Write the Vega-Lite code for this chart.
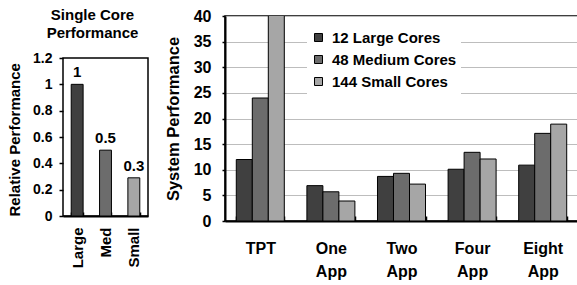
{
  "$schema": "https://vega.github.io/schema/vega-lite/v6.json",
  "padding": {"left": 7, "top": 7, "right": 0, "bottom": 0},
  "background": "white",
  "spacing": 15,
  "config": {
    "font": "Liberation Sans",
    "view": {"stroke": "black", "strokeWidth": 1.5},
    "axis": {
      "labelFontWeight": "bold",
      "titleFontWeight": "bold",
      "labelColor": "black",
      "titleColor": "black",
      "domainColor": "black",
      "domainWidth": 2,
      "tickColor": "black",
      "labelOverlap": false
    }
  },
  "resolve": {"scale": {"color": "independent"}},
  "hconcat": [
    {
      "width": 85,
      "height": 200,
      "view": {"stroke": null},
      "title": {
        "text": ["Single Core", "Performance"],
        "fontSize": 15,
        "fontWeight": "bold",
        "lineHeight": 18,
        "color": "black",
        "frame": "group",
        "anchor": "middle",
        "dx": -13,
        "offset": -25
      },
      "data": {
        "values": [
          {"core": "Large", "perf": 1.0, "label": "1"},
          {"core": "Med", "perf": 0.5, "label": "0.5"},
          {"core": "Small", "perf": 0.29, "label": "0.3"}
        ]
      },
      "layer": [
        {
          "data": {"values": [{"lo": 0, "hi": 1.2}]},
          "mark": {"type": "rect", "fill": null, "stroke": "black", "strokeWidth": 1.5},
          "encoding": {
            "y": {
              "field": "lo",
              "type": "quantitative",
              "scale": {"domain": [0, 1.519], "nice": false},
              "axis": {
                "values": [0, 0.2, 0.4, 0.6, 0.8, 1, 1.2],
                "tickCount": 10,
                "format": "~g",
                "grid": false,
                "domain": false,
                "labelOverlap": false,
                "tickSize": 4,
                "tickWidth": 1.5,
                "labelFontSize": 14,
                "labelPadding": 7,
                "title": "Relative Performance",
                "titleAnchor": "start",
                "titleFontSize": 15,
                "titlePadding": 10
              }
            },
            "y2": {"field": "hi"}
          }
        },
        {
          "mark": {"type": "bar", "stroke": "black", "strokeWidth": 1},
          "encoding": {
            "x": {
              "field": "core",
              "type": "nominal",
              "sort": null,
              "scale": {"paddingInner": 0.58, "paddingOuter": 0.29},
              "axis": {
                "title": null,
                "labelAngle": -90,
                "labelFontSize": 15,
                "labelPadding": 15,
                "tickBand": "extent",
                "tickSize": -4,
                "tickWidth": 1.5
              }
            },
            "y": {
              "field": "perf",
              "type": "quantitative",
              "scale": {"domain": [0, 1.519], "nice": false},
              "axis": {
                "values": [0, 0.2, 0.4, 0.6, 0.8, 1, 1.2],
                "tickCount": 10,
                "format": "~g",
                "grid": false,
                "domain": false,
                "labelOverlap": false,
                "tickSize": 4,
                "tickWidth": 1.5,
                "labelFontSize": 14,
                "labelPadding": 7,
                "title": "Relative Performance",
                "titleAnchor": "start",
                "titleFontSize": 15,
                "titlePadding": 10
              }
            },
            "color": {
              "field": "core",
              "type": "nominal",
              "scale": {"domain": ["Large", "Med", "Small"], "range": ["#404040", "#6c6c6c", "#a6a6a6"]},
              "legend": null
            }
          }
        },
        {
          "mark": {"type": "text", "dy": -12, "fontSize": 15, "fontWeight": "bold", "color": "black"},
          "encoding": {
            "x": {"field": "core", "type": "nominal", "sort": null},
            "y": {
              "field": "perf",
              "type": "quantitative",
              "axis": {
                "values": [0, 0.2, 0.4, 0.6, 0.8, 1, 1.2],
                "tickCount": 10,
                "format": "~g",
                "grid": false,
                "domain": false,
                "labelOverlap": false,
                "tickSize": 4,
                "tickWidth": 1.5,
                "labelFontSize": 14,
                "labelPadding": 7,
                "title": "Relative Performance",
                "titleAnchor": "start",
                "titleFontSize": 15,
                "titlePadding": 10
              }
            },
            "text": {"field": "label"}
          }
        }
      ]
    },
    {
      "width": 353,
      "height": 205,
      "data": {
        "values": [
          {"app": "TPT", "config": "12 Large Cores", "value": 12},
          {"app": "TPT", "config": "48 Medium Cores", "value": 24},
          {"app": "TPT", "config": "144 Small Cores", "value": 45},
          {"app": "One App", "config": "12 Large Cores", "value": 6.9},
          {"app": "One App", "config": "48 Medium Cores", "value": 5.7},
          {"app": "One App", "config": "144 Small Cores", "value": 3.9},
          {"app": "Two App", "config": "12 Large Cores", "value": 8.7},
          {"app": "Two App", "config": "48 Medium Cores", "value": 9.3},
          {"app": "Two App", "config": "144 Small Cores", "value": 7.2},
          {"app": "Four App", "config": "12 Large Cores", "value": 10.1},
          {"app": "Four App", "config": "48 Medium Cores", "value": 13.4},
          {"app": "Four App", "config": "144 Small Cores", "value": 12.1},
          {"app": "Eight App", "config": "12 Large Cores", "value": 10.9},
          {"app": "Eight App", "config": "48 Medium Cores", "value": 17.1},
          {"app": "Eight App", "config": "144 Small Cores", "value": 18.9}
        ]
      },
      "mark": {"type": "bar", "stroke": "black", "strokeWidth": 1, "clip": true},
      "encoding": {
        "x": {
          "field": "app",
          "type": "nominal",
          "sort": null,
          "scale": {"paddingInner": 0.32, "paddingOuter": 0.16},
          "axis": {
            "title": null,
            "labelAngle": 0,
            "labelFontSize": 16,
            "labelBaseline": "top",
            "labelLineHeight": 23,
            "labelPadding": 24,
            "labelExpr": "split(datum.label, ' ')",
            "tickBand": "extent",
            "tickSize": -5,
            "tickWidth": 1.5
          }
        },
        "xOffset": {"field": "config", "type": "nominal", "sort": null},
        "y": {
          "field": "value",
          "type": "quantitative",
          "scale": {"domain": [0, 40]},
          "axis": {
            "values": [0, 5, 10, 15, 20, 25, 30, 35, 40],
            "tickCount": 10,
            "grid": true,
            "gridColor": "#bdbdbd",
            "gridWidth": 1.2,
            "tickSize": 3,
            "tickWidth": 1.5,
            "labelFontSize": 16,
            "labelPadding": 11,
            "title": "System Performance",
            "titleFontSize": 16.5,
            "titlePadding": 12
          }
        },
        "color": {
          "field": "config",
          "type": "nominal",
          "sort": null,
          "scale": {
            "domain": ["12 Large Cores", "48 Medium Cores", "144 Small Cores"],
            "range": ["#404040", "#6c6c6c", "#a6a6a6"]
          },
          "legend": {
            "title": null,
            "orient": "none",
            "legendX": 82,
            "legendY": 10,
            "fillColor": "white",
            "padding": 4,
            "symbolType": "square",
            "symbolSize": 64,
            "symbolStrokeColor": "black",
            "symbolStrokeWidth": 1,
            "labelFontSize": 15,
            "labelFontWeight": "bold",
            "labelColor": "black",
            "labelOffset": 6,
            "rowPadding": 6
          }
        }
      }
    }
  ]
}
